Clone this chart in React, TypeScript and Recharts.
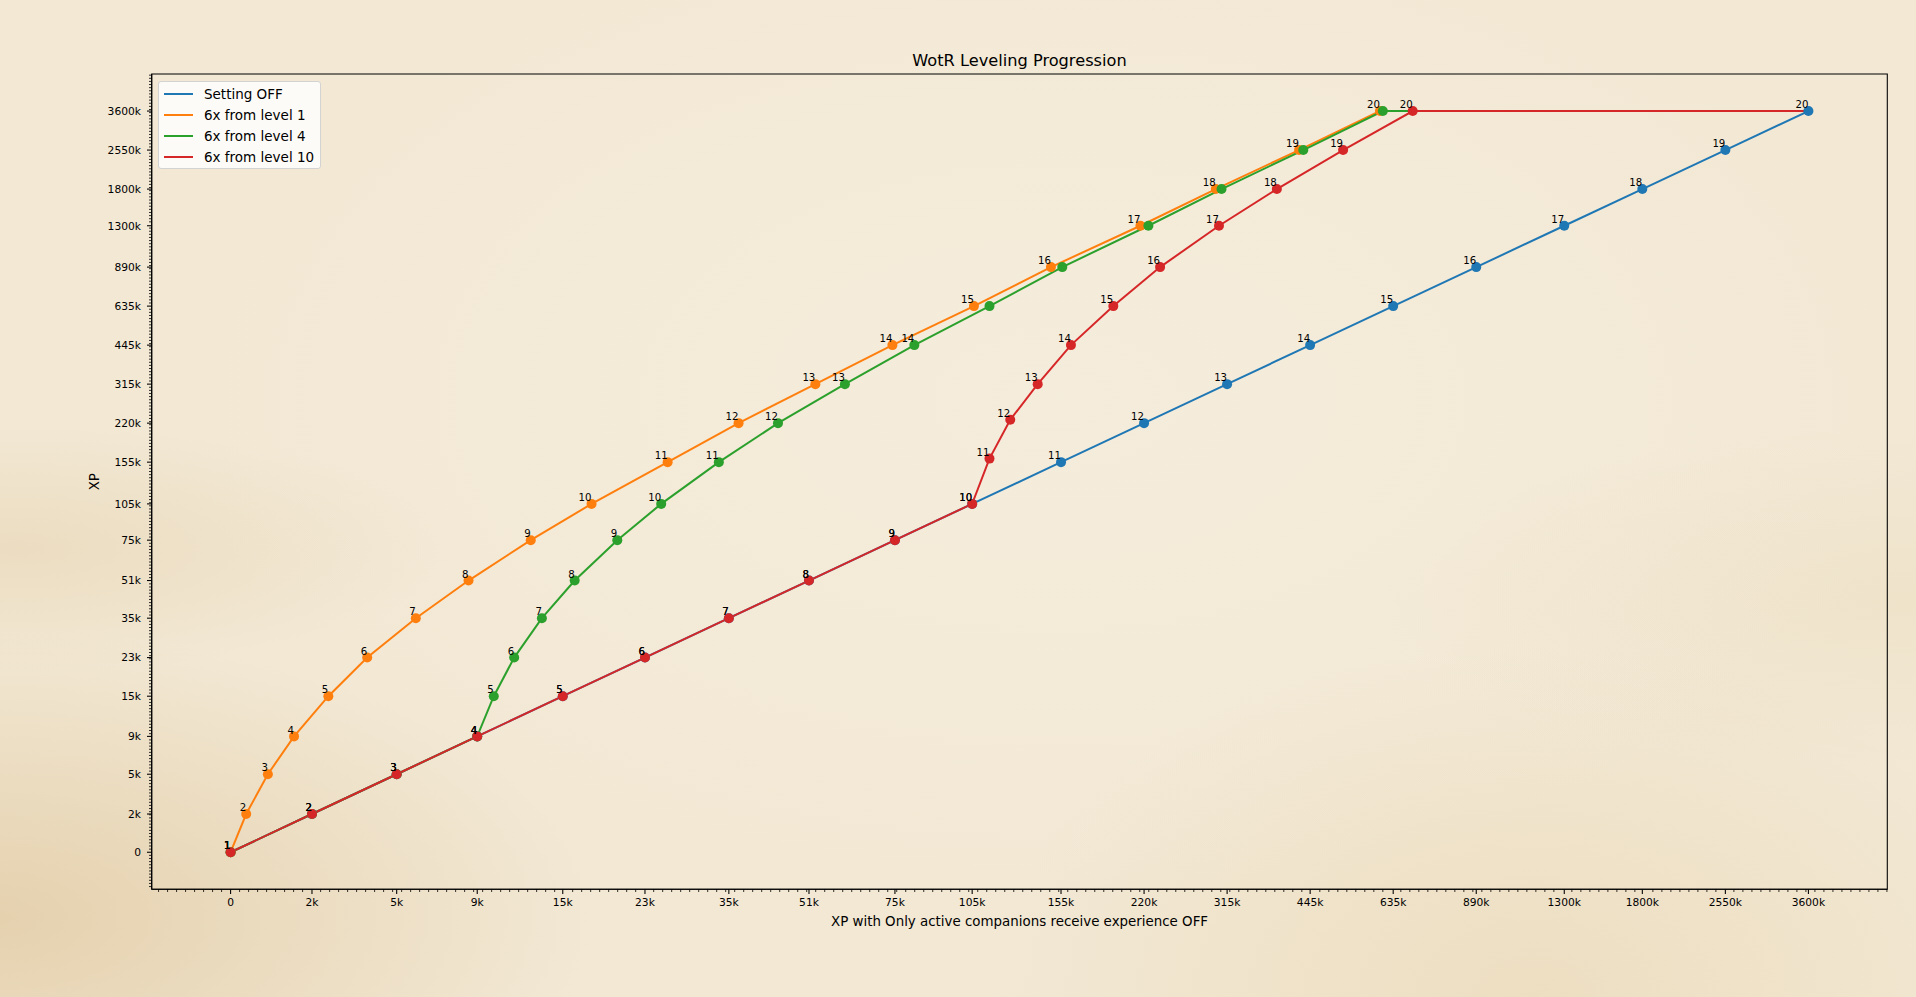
import React from 'react';
import { LineChart, Line, XAxis, YAxis, ReferenceArea } from 'recharts';

const FONT = '"DejaVu Sans", Verdana, sans-serif';

const LEVELS = [1, 2, 3, 4, 5, 6, 7, 8, 9, 10, 11, 12, 13, 14, 15, 16, 17, 18, 19, 20];

// XP needed for each level (the y value of the points)
const LEVEL_XP = [
  0, 2000, 5000, 9000, 15000, 23000, 35000, 51000, 75000, 105000, 155000, 220000, 315000,
  445000, 635000, 890000, 1300000, 1800000, 2550000, 3600000,
];

const TICK_LABELS = [
  '0', '2k', '5k', '9k', '15k', '23k', '35k', '51k', '75k', '105k', '155k', '220k', '315k',
  '445k', '635k', '890k', '1300k', '1800k', '2550k', '3600k',
];

// where each tick sits on the (almost evenly spaced) axis
const TICK_POS = [
  0, 0.98, 2, 2.97, 4, 4.99, 6, 6.965, 8, 8.93, 10, 11, 12, 13, 14, 15, 16.06, 17, 18, 19,
];

// x: XP with "Only active companions receive experience" OFF, per level
const XP_OFF = [
  0, 2000, 5000, 9000, 15000, 23000, 35000, 51000, 75000, 105000, 155000, 220000, 315000,
  445000, 635000, 890000, 1300000, 1800000, 2550000, 3600000,
];
const XP_6X_L1 = [
  0, 333, 833, 1500, 2500, 3833, 5833, 8500, 12500, 17500, 25833, 36667, 52500, 74167,
  105833, 148333, 216667, 300000, 425000, 600000,
];
const XP_6X_L4 = [
  0, 2000, 5000, 9000, 10000, 11333, 13333, 16000, 20000, 25000, 33333, 44167, 60000, 81667,
  113333, 155833, 224167, 307500, 432500, 607500,
];
const XP_6X_L10 = [
  0, 2000, 5000, 9000, 15000, 23000, 35000, 51000, 75000, 105000, 113333, 124167, 140000,
  161667, 193333, 235833, 304167, 387500, 512500, 687500,
];
// the level-10 curve sits a little above the thresholds at levels 11 and 12
const XP_6X_L10_Y = [
  0, 2000, 5000, 9000, 15000, 23000, 35000, 51000, 75000, 105000, 160000, 227000, 315000,
  445000, 635000, 890000, 1300000, 1800000, 2550000, 3600000,
];

// levels whose number is not printed (too close to the level-1 curve)
const L4_UNLABELED = [15, 16, 17, 18, 19, 20];

const MAX_XP = 3600000;

const SERIES = [
  { key: 'off', name: 'Setting OFF', color: '#1f77b4', xs: XP_OFF, ys: LEVEL_XP, extend: false, skip: [] as number[] },
  { key: 'l1', name: '6x from level 1', color: '#ff7f0e', xs: XP_6X_L1, ys: LEVEL_XP, extend: true, skip: [] as number[] },
  { key: 'l4', name: '6x from level 4', color: '#2ca02c', xs: XP_6X_L4, ys: LEVEL_XP, extend: true, skip: L4_UNLABELED },
  { key: 'l10', name: '6x from level 10', color: '#d62728', xs: XP_6X_L10, ys: XP_6X_L10_Y, extend: true, skip: [] as number[] },
];

// between ticks the axis runs logarithmically (shifted so 0 is usable)
const LOG_SHIFT = 5000;
const g = (xp: number) => Math.log(xp + LOG_SHIFT);

function levelPos(xp: number) {
  for (let i = 1; i < LEVEL_XP.length; i++) {
    if (xp <= LEVEL_XP[i]) {
      const t = (g(xp) - g(LEVEL_XP[i - 1])) / (g(LEVEL_XP[i]) - g(LEVEL_XP[i - 1]));
      return TICK_POS[i - 1] + t * (TICK_POS[i] - TICK_POS[i - 1]);
    }
  }
  return TICK_POS[TICK_POS.length - 1];
}

type Pt = { x: number; y: number; level: number | null; label: boolean };

function buildData(xs: number[], ys: number[], extend: boolean, skip: number[]) {
  const pts: Pt[] = xs.map((x, i) => ({
    x: levelPos(x),
    y: levelPos(ys[i]),
    level: LEVELS[i],
    label: !skip.includes(LEVELS[i]),
  }));
  if (extend) pts.push({ x: levelPos(MAX_XP), y: levelPos(MAX_XP), level: null, label: false });
  return pts;
}

const DOMAIN: [number, number] = [-0.95, 19.95];

function minorTicks(step: number) {
  const out: number[] = [];
  for (let k = Math.ceil(DOMAIN[0] / step); k * step <= DOMAIN[1]; k++) {
    const v = +(k * step).toFixed(4);
    if (TICK_POS.some((m) => Math.abs(m - v) < 0.02)) continue;
    out.push(v);
  }
  return out;
}

const X_TICKS = [...TICK_POS, ...minorTicks(0.1084)].sort((a, b) => a - b);
const Y_TICKS = [...TICK_POS, ...minorTicks(0.08)].sort((a, b) => a - b);

const majorIndex = (v: number) => TICK_POS.findIndex((m) => Math.abs(m - v) < 1e-6);

function XTick(props: any) {
  const { x, y, payload } = props;
  const idx = majorIndex(payload.value);
  const major = idx >= 0;
  return (
    <g>
      <line x1={x} x2={x} y1={y} y2={y + (major ? 4.7 : 2.7)} stroke="#000" strokeWidth={major ? 1.07 : 0.8} />
      {major && (
        <text x={x} y={y + 16.8} textAnchor="middle" fontSize={10.7} fontFamily={FONT} fill="#000">
          {TICK_LABELS[idx]}
        </text>
      )}
    </g>
  );
}

function YTick(props: any) {
  const { x, y, payload } = props;
  const idx = majorIndex(payload.value);
  const major = idx >= 0;
  return (
    <g>
      <line x1={x} x2={x - (major ? 4.7 : 2.7)} y1={y} y2={y} stroke="#000" strokeWidth={major ? 1.07 : 0.8} />
      {major && (
        <text x={x - 10.7} y={y + 3.9} textAnchor="end" fontSize={10.7} fontFamily={FONT} fill="#000">
          {TICK_LABELS[idx]}
        </text>
      )}
    </g>
  );
}

const makeDot = (color: string) => (props: any) => {
  const { cx, cy, payload, index } = props;
  if (payload.level == null) return <g key={`d-${index}`} />;
  return <circle key={`d-${index}`} cx={cx} cy={cy} r={5} fill={color} />;
};

const levelLabel = (props: any) => {
  const { cx, cy, payload, index } = props;
  if (!payload.label) return <g key={`t-${index}`} />;
  return (
    <text key={`t-${index}`} x={cx} y={cy - 2.8} textAnchor="end" fontSize={10.2} fontFamily={FONT} fill="#000">
      {payload.level}
    </text>
  );
};

const W = 1916;
const H = 997;

export default function App() {
  const seriesData = SERIES.map((s) => ({ ...s, data: buildData(s.xs, s.ys, s.extend, s.skip) }));

  return (
    <div
      style={{
        position: 'fixed',
        left: 0,
        top: 0,
        width: W,
        height: H,
        overflow: 'hidden',
        background: [
          'radial-gradient(ellipse at 0% 92%, rgba(216,186,136,0.5), rgba(216,186,136,0) 22%)',
          'radial-gradient(ellipse at 1% 55%, rgba(224,200,158,0.35), rgba(224,200,158,0) 16%)',
          'radial-gradient(ellipse at 80% 100%, rgba(228,204,158,0.35), rgba(228,204,158,0) 25%)',
          'radial-gradient(ellipse at 100% 60%, rgba(230,212,172,0.25), rgba(230,212,172,0) 20%)',
          'radial-gradient(ellipse at 55% 40%, rgba(247,240,226,0.55), rgba(247,240,226,0) 60%)',
          '#f2e8d4',
        ].join(', '),
      }}
    >
      <LineChart
        width={W}
        height={H}
        margin={{ top: 74, right: 28.7, bottom: 67.7, left: 91.7 }}
        style={{ position: 'absolute', left: 0, top: 0 }}
      >
        <XAxis
          type="number"
          dataKey="x"
          domain={DOMAIN}
          ticks={X_TICKS}
          interval={0}
          tickSize={0}
          tickMargin={0}
          tick={<XTick />}
          axisLine={{ stroke: '#000', strokeWidth: 1.07 }}
          tickLine={false}
          allowDataOverflow
          height={40}
        />
        <YAxis
          type="number"
          dataKey="y"
          domain={DOMAIN}
          ticks={Y_TICKS}
          interval={0}
          tickSize={0}
          tickMargin={0}
          tick={<YTick />}
          axisLine={{ stroke: '#000', strokeWidth: 1.07 }}
          tickLine={false}
          allowDataOverflow
          width={60}
        />
        <ReferenceArea
          x1={DOMAIN[0]}
          x2={DOMAIN[1]}
          y1={DOMAIN[0]}
          y2={DOMAIN[1]}
          fill="none"
          stroke="#000"
          strokeWidth={1.07}
        />
        {seriesData.map((s) => (
          <Line
            key={s.key}
            data={s.data}
            dataKey="y"
            name={s.name}
            type="linear"
            stroke={s.color}
            strokeWidth={2}
            dot={makeDot(s.color)}
            activeDot={false}
            isAnimationActive={false}
          />
        ))}
        {seriesData.map((s) => (
          <Line
            key={`${s.key}-labels`}
            data={s.data}
            dataKey="y"
            type="linear"
            stroke="none"
            legendType="none"
            dot={levelLabel}
            activeDot={false}
            isAnimationActive={false}
          />
        ))}
      </LineChart>

      <svg width={W} height={H} style={{ position: 'absolute', left: 0, top: 0, pointerEvents: 'none' }}>
        <text x={1019.5} y={66} textAnchor="middle" fontSize={16.2} fontFamily={FONT} fill="#000">
          WotR Leveling Progression
        </text>
        <text x={1019.5} y={925.5} textAnchor="middle" fontSize={13.4} fontFamily={FONT} fill="#000">
          XP with Only active companions receive experience OFF
        </text>
        <text
          x={98.8}
          y={481.7}
          textAnchor="middle"
          fontSize={13.4}
          fontFamily={FONT}
          fill="#000"
          transform="rotate(-90 98.8 481.7)"
        >
          XP
        </text>
      </svg>

      <div
        style={{
          position: 'absolute',
          left: 158.4,
          top: 80.7,
          width: 162.6,
          height: 88.3,
          boxSizing: 'border-box',
          background: 'rgba(255,255,255,0.8)',
          border: '1px solid #d3d3d3',
          borderRadius: 3,
          fontFamily: FONT,
          fontSize: 13.5,
          color: '#000',
        }}
      >
        {SERIES.map((s, i) => (
          <div key={s.key} style={{ position: 'absolute', left: 0, top: 12.3 + 21 * i - 8, height: 16, width: '100%' }}>
            <div
              style={{
                position: 'absolute',
                left: 4.9,
                top: 7,
                width: 28.4,
                height: 2,
                background: s.color,
              }}
            />
            <div style={{ position: 'absolute', left: 44.6, top: 0, lineHeight: '16px', whiteSpace: 'nowrap' }}>
              {s.name}
            </div>
          </div>
        ))}
      </div>
    </div>
  );
}
